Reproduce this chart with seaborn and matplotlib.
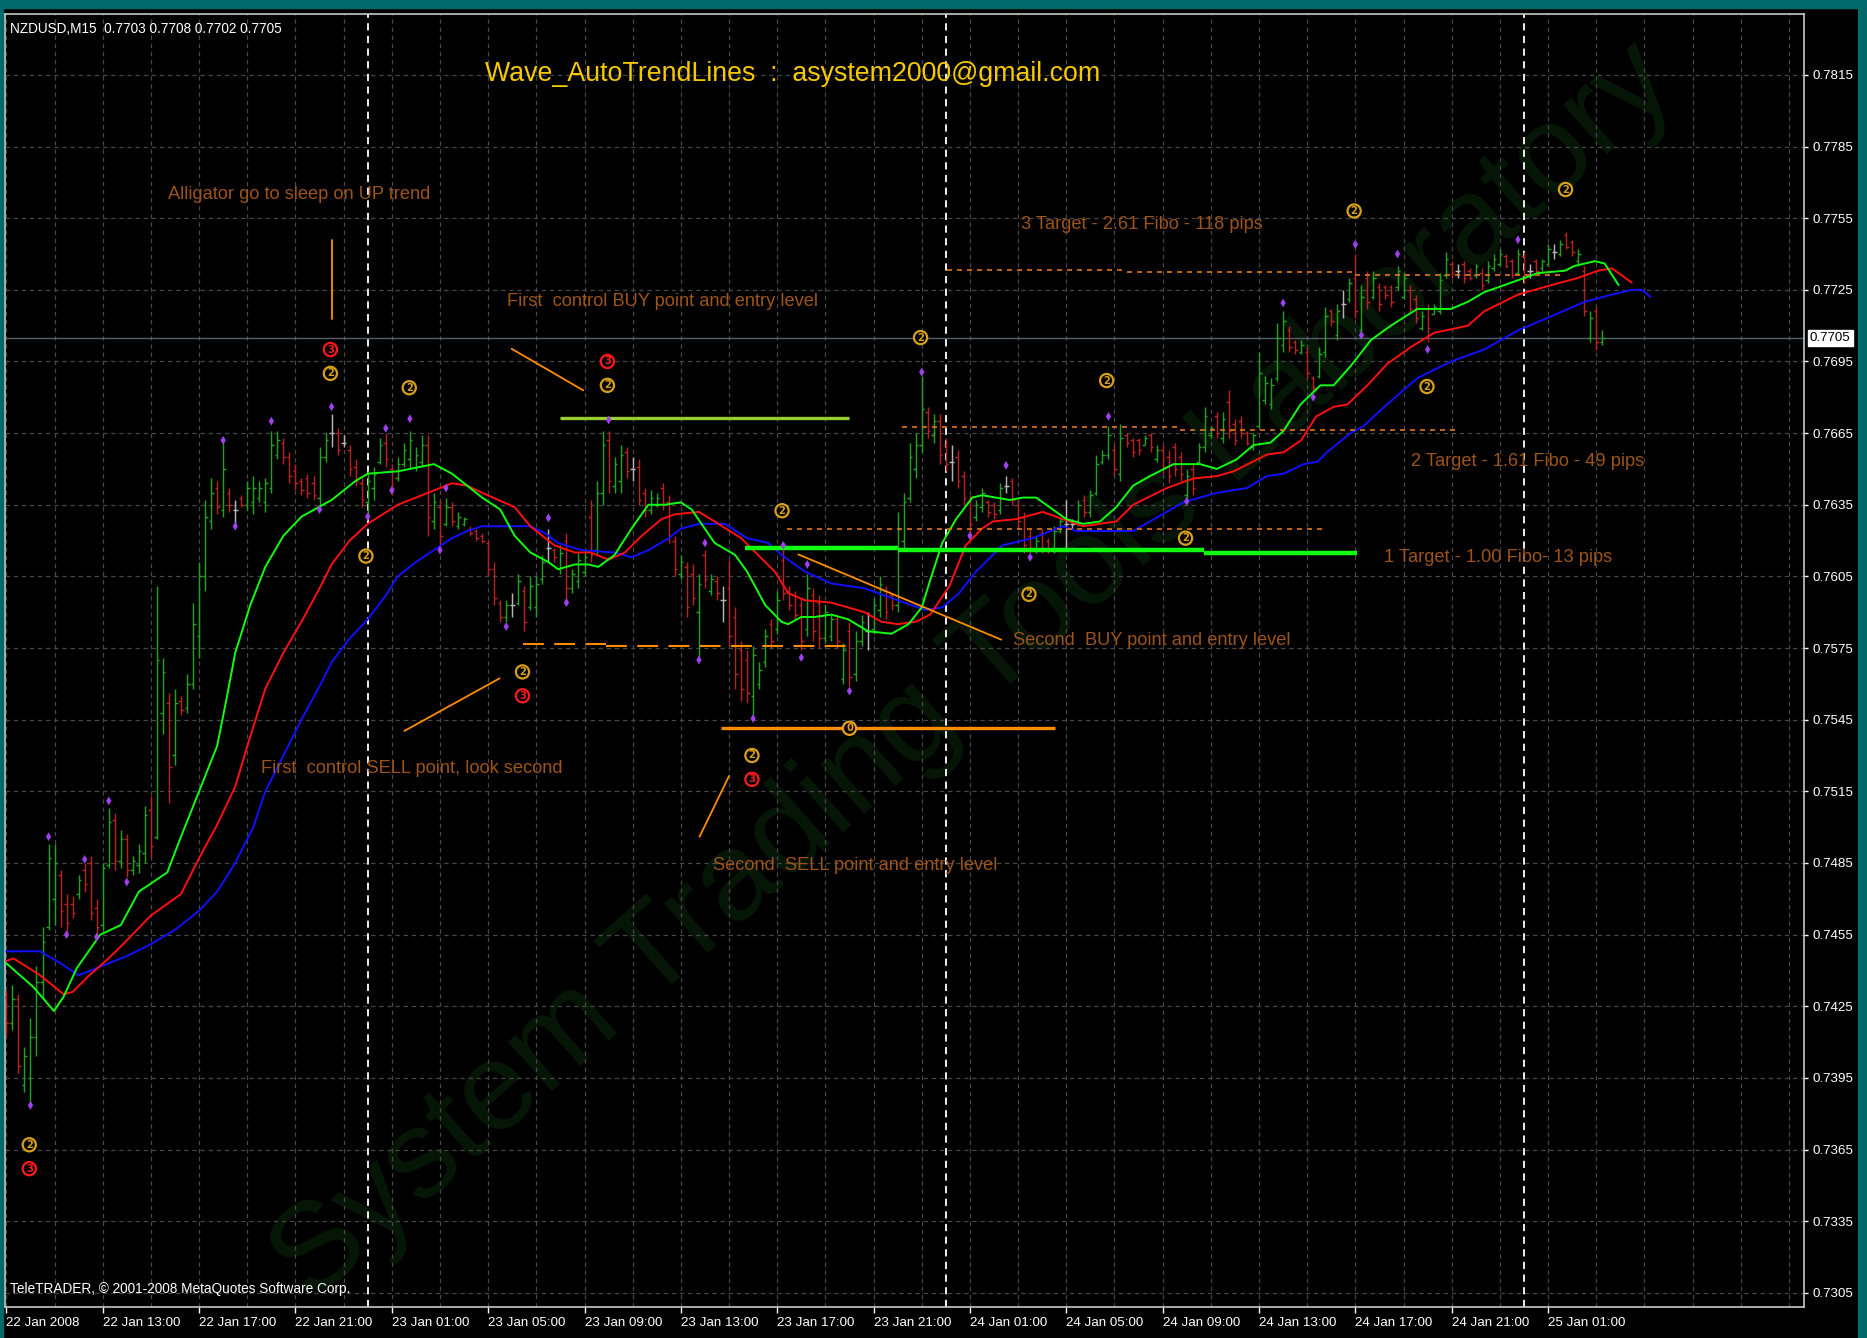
import numpy as np
import matplotlib
matplotlib.use("Agg")
import matplotlib.pyplot as plt
import matplotlib.transforms as mtransforms
from matplotlib.patches import Rectangle
from matplotlib import font_manager
import seaborn as sns

sns.set_theme(style="dark")
_names = {f.name for f in font_manager.fontManager.ttflist}
if "Liberation Sans Narrow" in _names:
    FAM, K = "Liberation Sans Narrow", 1.0
else:
    FAM, K = "Liberation Sans", 0.82
plt.rcParams['font.family'] = [FAM, 'DejaVu Sans']

# ---------------- data (prices in pips: 7432 -> 0.7432) ----------------
bar_open = [7429,7418,7428,7392,7395,7412,7435,7458,7470,7480,7468,7468,7472,7482,7485,7466,7459,7484,7503,7486,
            7495,7482,7484,7489,7507,7496,7548,7552,7530,7553,7550,7560,7580,7605,7628,7642,7633,7640,7633,7638,
            7635,7636,7638,7636,7642,7656,7661,7655,7649,7645,7646,7644,7638,7655,7665,7665,7661,7658,7651,7644,
            7636,7642,7653,7661,7650,7646,7652,7654,7651,7653,7660,7628,7634,7627,7634,7626,7627,7625,7624,7622,
            7619,7608,7594,7588,7593,7594,7599,7592,7592,7604,7617,7616,7608,7620,7600,7603,7607,7630,7616,7640,
            7662,7643,7645,7657,7650,7651,7640,7633,7635,7642,7636,7620,7606,7609,7606,7590,7614,7599,7603,7595,
            7600,7588,7574,7570,7555,7560,7569,7585,7583,7612,7599,7597,7593,7583,7597,7594,7579,7580,7587,7562,
            7582,7564,7578,7582,7583,7591,7599,7597,7593,7620,7638,7650,7660,7674,7664,7670,7660,7653,7655,7647,
            7636,7630,7634,7636,7635,7633,7643,7645,7635,7630,7622,7616,7623,7620,7617,7624,7627,7627,7628,7637,
            7632,7640,7653,7656,7658,7648,7664,7662,7662,7660,7664,7654,7658,7655,7659,7655,7639,7650,7653,7659,
            7664,7672,7663,7678,7669,7670,7665,7659,7668,7679,7677,7688,7702,7708,7703,7699,7699,7688,7689,7699,
            7716,7706,7719,7721,7730,7708,7730,7722,7726,7726,7726,7726,7722,7725,7721,7709,7717,7715,7716,7731,
            7736,7733,7736,7733,7731,7732,7729,7734,7736,7739,7737,7732,7739,7733,7737,7734,7736,7741,7740,7748,
            7745,7737,7733,7705,7716,7703]
bar_high = [7432,7434,7430,7408,7420,7442,7458,7493,7493,7482,7472,7471,7480,7485,7488,7470,7485,7508,7506,7499,
            7497,7488,7493,7509,7513,7601,7571,7556,7558,7555,7564,7594,7611,7637,7646,7645,7662,7642,7637,7639,
            7645,7647,7645,7646,7666,7666,7663,7657,7652,7646,7648,7647,7659,7665,7673,7667,7664,7660,7654,7646,
            7649,7651,7663,7665,7652,7655,7661,7666,7659,7664,7664,7640,7637,7638,7636,7632,7630,7626,7625,7623,
            7620,7611,7595,7595,7598,7606,7601,7605,7605,7614,7625,7617,7618,7623,7608,7615,7616,7637,7645,7666,
            7666,7655,7660,7659,7655,7654,7642,7641,7640,7644,7639,7622,7614,7611,7610,7606,7616,7606,7605,7601,
            7612,7592,7578,7574,7576,7569,7583,7587,7599,7616,7601,7599,7596,7606,7600,7597,7593,7589,7589,7577,
            7586,7582,7589,7590,7596,7605,7601,7598,7632,7640,7661,7665,7689,7676,7673,7673,7663,7660,7658,7649,
            7639,7637,7642,7637,7636,7644,7647,7646,7637,7632,7625,7622,7625,7621,7626,7630,7637,7629,7637,7639,
            7641,7656,7658,7668,7660,7669,7665,7663,7663,7664,7665,7660,7660,7658,7661,7657,7650,7652,7661,7676,
            7668,7674,7674,7683,7671,7672,7666,7665,7699,7689,7688,7711,7716,7710,7704,7704,7701,7689,7701,7718,
            7717,7719,7725,7730,7740,7727,7733,7733,7728,7727,7727,7735,7732,7727,7723,7716,7719,7719,7732,7741,
            7737,7736,7737,7734,7736,7734,7737,7740,7742,7740,7738,7742,7741,7736,7738,7738,7744,7744,7746,7749,
            7746,7742,7735,7716,7718,7708]
bar_low = [7413,7415,7397,7389,7384,7404,7428,7457,7459,7458,7456,7462,7470,7473,7461,7455,7457,7483,7482,7483,
           7479,7480,7481,7485,7487,7495,7539,7510,7526,7547,7548,7558,7571,7599,7625,7631,7630,7632,7626,7634,
           7633,7631,7636,7632,7640,7654,7652,7644,7641,7639,7638,7637,7634,7653,7659,7656,7659,7647,7643,7634,
           7630,7637,7652,7651,7639,7645,7651,7650,7649,7651,7622,7625,7616,7626,7626,7625,7626,7622,7620,7619,
           7605,7593,7586,7586,7588,7593,7582,7591,7588,7602,7611,7611,7606,7595,7598,7600,7605,7611,7614,7635,
           7640,7640,7640,7646,7645,7635,7630,7631,7634,7633,7619,7605,7604,7588,7593,7571,7600,7597,7595,7586,
           7576,7558,7553,7552,7547,7558,7567,7575,7581,7595,7591,7587,7574,7580,7578,7575,7577,7578,7575,7560,
           7559,7561,7576,7574,7581,7588,7587,7591,7590,7616,7636,7646,7657,7663,7661,7652,7649,7645,7642,7635,
           7623,7628,7632,7630,7629,7631,7640,7635,7625,7615,7615,7615,7615,7615,7615,7623,7617,7625,7626,7630,
           7630,7639,7652,7654,7647,7645,7659,7655,7656,7660,7657,7653,7648,7644,7647,7645,7637,7639,7652,7657,
           7663,7663,7661,7663,7660,7663,7660,7658,7667,7677,7675,7687,7699,7699,7698,7698,7688,7682,7688,7697,
           7710,7704,7713,7720,7713,7705,7717,7721,7716,7721,7718,7725,7721,7715,7711,7708,7703,7715,7715,7730,
           7730,7730,7728,7729,7730,7725,7728,7733,7735,7734,7730,7731,7728,7730,7732,7733,7735,7738,7739,7742,
           7739,7736,7714,7703,7700,7702]
bar_close = [7418,7428,7400,7404,7412,7435,7452,7487,7485,7465,7460,7464,7478,7476,7464,7458,7483,7502,7486,7495,
             7482,7486,7490,7505,7492,7570,7565,7525,7552,7549,7560,7585,7605,7630,7640,7634,7650,7635,7633,7635,
             7642,7642,7642,7644,7660,7662,7655,7647,7644,7641,7640,7639,7655,7662,7665,7658,7661,7650,7645,7637,
             7645,7648,7660,7654,7642,7652,7658,7662,7656,7660,7630,7636,7622,7634,7628,7630,7629,7623,7621,7620,
             7608,7596,7588,7593,7593,7603,7586,7601,7602,7611,7617,7613,7615,7600,7606,7612,7613,7614,7640,7660,
             7645,7652,7656,7649,7650,7637,7633,7638,7638,7635,7622,7608,7611,7592,7596,7602,7604,7604,7598,7595,
             7580,7564,7558,7556,7572,7566,7580,7578,7595,7598,7593,7589,7578,7600,7582,7579,7590,7587,7578,7574,
             7563,7578,7586,7582,7593,7602,7590,7593,7625,7636,7655,7660,7675,7666,7670,7656,7652,7653,7645,7638,
             7627,7635,7640,7632,7631,7642,7643,7637,7628,7618,7617,7620,7617,7616,7624,7628,7627,7627,7635,7632,
             7639,7652,7656,7664,7650,7663,7661,7657,7658,7663,7659,7658,7651,7647,7650,7648,7647,7642,7659,7672,
             7667,7665,7671,7666,7662,7665,7661,7664,7690,7686,7685,7705,7712,7701,7700,7702,7690,7684,7698,7714,
             7712,7716,7719,7728,7716,7722,7720,7730,7719,7723,7720,7733,7730,7717,7713,7714,7709,7718,7729,7738,
             7732,7733,7730,7730,7735,7727,7735,7738,7740,7735,7731,7740,7730,7733,7733,7737,7742,7741,7744,7743,
             7741,7740,7716,7713,7703,7705]

# Alligator lines (bar index, price in pips)
jaw_x = [0,5.6,9,12,16,20,24,28,32,35,38,41,43,46,49,52,54,57,60,63,65,68,71,74,76.5,79,83,87,89.5,91.6,95.5,
         101,103.8,106.6,110,112,115,117.6,119.3,123,126.5,128.7,132.6,137,142.5,148,152.5,155.4,158.2,161,
         165.4,170.4,175.4,177.7,187.1,189.9,195.4,201,206,209.3,212.1,215.4,217.7,219.3,223.2,225.4,228.8,
         234.3,239.9,245.4,251,256.6,262.1,266.6,269.9,271.6,273]
jaw_y = [7448,7448,7443,7438,7442,7446,7451,7457,7465,7473,7485,7500,7515,7530,7545,7559,7569,7579,7587,7597,
         7605,7611,7616,7621,7624,7626,7626,7626,7623,7619,7616,7615,7613,7616,7621,7625,7627,7627,7627,7621,
         7619,7614,7607,7602,7600,7595,7591,7592,7598,7607,7618,7621,7626,7624,7624,7628,7636,7640,7642,7647,
         7648,7652,7653,7657,7665,7668,7676,7688,7695,7700,7708,7714,7720,7723,7725,7725,7722]
teeth_x = [0,1.2,5.6,9.5,11,13.8,16.5,19,24,29,32,35,38,40.5,43,46,49,52,54,57,60,65,71,74,76.5,79,84.4,87,91,
           94.4,97,100,102.7,105.5,108.8,111,115,117.6,122,124,127.6,129.8,132.6,137,142.5,145.3,148,151,153.4,
           156.6,159.3,162,163.8,167.7,172.1,175.4,178.8,184.3,187.1,192.7,197.1,201,203.8,209.3,212.1,215,
           217.5,220.4,222.7,226,229.3,233.2,237.1,242.7,245.4,251,256.6,261,264.3,266.6,269.9]
teeth_y = [7444,7445,7438,7430,7431,7438,7444,7450,7463,7472,7487,7501,7517,7538,7558,7573,7586,7600,7610,7620,
           7627,7635,7641,7644,7643,7640,7634,7626,7618,7615,7615,7612,7615,7622,7629,7631,7632,7628,7621,7616,
           7607,7598,7595,7594,7590,7586,7585,7586,7589,7601,7618,7625,7628,7629,7632,7629,7626,7628,7635,7642,
           7646,7647,7649,7656,7657,7662,7672,7676,7677,7685,7694,7701,7707,7710,7716,7723,7727,7730,7733,7734,
           7728]
lips_x = [0,4.5,7.9,9.5,11.7,15.6,19,22,26.7,29,32,35,36.5,38,40.5,43,46,49,54,58,60,65,71,74,79,82,84.4,87,90,
          91.6,94.4,96.6,98.3,101,103.8,106.6,109.3,112,113.8,117.6,121,123,126,128.7,129.8,132,134.2,137,139.8,
          143.1,147,149.8,152,153.6,155.4,157.7,160.4,162,166.6,168.8,171,173.2,176,178.8,181.6,184.3,187.1,
          189.9,193.8,198.2,201,204.3,207.1,209.9,212.1,214.9,218.2,220.4,223.2,226.6,229.9,234.3,239.9,242.7,
          245.4,251,254.3,258.8,260.4,263.8,265.4,267.7]
lips_y = [7443,7433,7423,7429,7441,7455,7459,7473,7481,7496,7515,7534,7553,7573,7593,7609,7622,7630,7637,7645,
          7648,7649,7652,7648,7638,7633,7622,7615,7611,7608,7610,7610,7609,7614,7625,7635,7635,7636,7633,7619,
          7614,7607,7593,7586,7585,7588,7588,7589,7587,7582,7581,7585,7592,7605,7619,7629,7638,7639,7637,7638,
          7638,7634,7629,7627,7628,7634,7643,7647,7652,7652,7650,7654,7660,7661,7666,7677,7685,7685,7693,7704,
          7710,7717,7717,7720,7724,7729,7732,7733,7735,7737,7736,7727]

# fractal markers
diam_i = [4,7,10,13,15,17,20,36,38,44,52,54,60,63,64,67,72,73,83,90,93,100,115,116,124,129,132,133,140,152,160,
          166,170,183,196,212,217,224,225,231,236,251]
diam_p = [7383.5,7496,7455,7486.5,7454,7511,7477,7662,7626,7670,7633,7676,7630,7667,7641,7671,7616,7642,7584,
          7629.5,7594,7670.5,7570,7619,7545.5,7618,7571,7610,7557,7690.5,7622,7651.5,7613,7672,7636.4,7719.5,
          7680,7744,7706,7740,7700,7746]
wave2_i = [3.8,53.8,66.9,59.7,85.7,99.8,123.8,128.8,151.8,169.8,182.7,195.8,223.8,235.9,258.9]
wave2_p = [7367,7690,7684,7613.5,7565,7685,7530,7632.5,7705,7597.5,7687,7621,7758,7684.5,7767]
wave3_i = [3.8,53.8,99.8,85.7,123.8]
wave3_p = [7357,7700,7695,7555,7520]

date_labels = ["22 Jan 2008", "22 Jan 13:00", "22 Jan 17:00", "22 Jan 21:00", "23 Jan 01:00", "23 Jan 05:00",
               "23 Jan 09:00", "23 Jan 13:00", "23 Jan 17:00", "23 Jan 21:00", "24 Jan 01:00", "24 Jan 05:00",
               "24 Jan 09:00", "24 Jan 13:00", "24 Jan 17:00", "24 Jan 21:00", "25 Jan 01:00"]
price_ticks = [7305, 7335, 7365, 7395, 7425, 7455, 7485, 7515, 7545, 7575, 7605, 7635, 7665, 7695, 7725, 7755,
               7785, 7815]
day_breaks = [60, 156, 252]

# horizontal levels: (start bar, end bar, price)
green_level = [(122.6, 148, 7616.9), (148, 198.8, 7616.2), (198.8, 224.2, 7614.8)]
buy_level = [(92, 140, 7671.4)]
sell_level = [(118.7, 174.2, 7541.4)]
sell_dash = [(85.8, 99.6, 7576.8), (99.6, 140.9, 7575.8)]
target_levels = [(156.2, 186, 7733.5), (186, 224, 7732.3), (224, 258.5, 7731.0),
                 (148.8, 194.9, 7667.7), (194.9, 240.7, 7666.5), (129.7, 219, 7625.0)]
# pointer segments: (i0, p0, i1, p1)
pointers = [(54.0, 7745.7, 54.0, 7712.8), (83.9, 7700.3, 95.8, 7682.9), (66.1, 7540.3, 81.9, 7562.3),
            (115.1, 7496.0, 120.0, 7521.4), (131.5, 7614.2, 165.2, 7578.5)]
notes = [("Alligator go to sleep on UP trend", 26.8, 7765),
         ("First  control BUY point and entry level", 83.1, 7720),
         ("3 Target - 2.61 Fibo - 118 pips", 168.5, 7752.5),
         ("2 Target - 1.61 Fibo - 49 pips", 233.3, 7653),
         ("1 Target - 1.00 Fibo- 13 pips", 228.8, 7613),
         ("Second  BUY point and entry level", 167.1, 7578),
         ("First  control SELL point, look second", 42.3, 7524.5),
         ("Second  SELL point and entry level", 117.3, 7484)]
last_price = 7705

# ---------------- figure ----------------
W, H = 1867, 1338
P = 1e4
fig = plt.figure(figsize=(W / 100, H / 100), dpi=100, facecolor="black")
ax = fig.add_axes([5 / W, 1 - 1307.4 / H, (1804 - 5) / W, (1307.4 - 13.5) / H])
ax.set_facecolor("black")
ax.set_xlim(-0.23, 298.5)
ax.set_ylim(0.72989, 0.78407)
ax.grid(False)

teal = "#00696b"
fig.add_artist(Rectangle((0, 1 - 8.4 / H), 1, 8.4 / H, transform=fig.transFigure, color=teal, zorder=0))
fig.add_artist(Rectangle((1858 / W, 0), 9 / W, 1, transform=fig.transFigure, color=teal, zorder=0))
fig.add_artist(Rectangle((0, 0), 2.6 / W, 1, transform=fig.transFigure, color=teal, zorder=0))

# watermark
ax.text(0.522, 0.497, "System Trading Tools Laboratory", transform=fig.transFigure, rotation=41.6,
        rotation_mode="anchor", ha="center", va="center", fontsize=110 * K, color="#071707", zorder=0.5,
        clip_on=True)

# grid
gcol = "#474747"
for t in price_ticks:
    ax.axhline(t / P, color=gcol, lw=0.9, ls=(0, (3.5, 3)), zorder=1)
for g in range(0, 300, 8):
    ax.axvline(g, color=gcol, lw=0.9, ls=(0, (3.5, 3)), zorder=1)

# current price line
ax.axhline(last_price / P, color="#56606a", lw=1.0, zorder=1.5)

# day separators
for d in day_breaks:
    ax.axvline(d, color="white", lw=1.3, ls=(0, (4, 3)), zorder=2)

# OHLC bars
o = np.array(bar_open) / P
h = np.array(bar_high) / P
l = np.array(bar_low) / P
c = np.array(bar_close) / P
idx = np.arange(len(o))
cols = np.where(c > o, "#22a022", np.where(c < o, "#b52222", "#b4b4b4"))
ax.vlines(idx, l, h, colors=cols, lw=1.05, zorder=4)
ax.hlines(o, idx - 0.42, idx, colors=cols, lw=1.05, zorder=4)
ax.hlines(c, idx, idx + 0.42, colors=cols, lw=1.05, zorder=4)

# alligator
sns.lineplot(x=np.array(jaw_x), y=np.array(jaw_y) / P, ax=ax, color="#1010ff", lw=1.4, sort=False, zorder=5)
sns.lineplot(x=np.array(teeth_x), y=np.array(teeth_y) / P, ax=ax, color="#ff1010", lw=1.4, sort=False, zorder=5)
sns.lineplot(x=np.array(lips_x), y=np.array(lips_y) / P, ax=ax, color="#10ff10", lw=1.4, sort=False, zorder=5)

# levels
orange = "#ff8c00"
for a, b, p in green_level:
    ax.hlines(p / P, a, b, color="#10ff10", lw=3.2, zorder=6)
for a, b, p in buy_level:
    ax.hlines(p / P, a, b, color="#9acd32", lw=2.4, zorder=6)
for a, b, p in sell_level:
    ax.hlines(p / P, a, b, color=orange, lw=2.4, zorder=6)
for a, b, p in sell_dash:
    ax.hlines(p / P, a, b, color=orange, lw=1.5, ls=(0, (10, 5)), zorder=6)
for a, b, p in target_levels:
    ax.hlines(p / P, a, b, color="#e0781e", lw=1.2, ls=(0, (3, 3)), zorder=6)
for i0, p0, i1, p1 in pointers:
    ax.plot([i0, i1], [p0 / P, p1 / P], color=orange, lw=1.3, zorder=6)

# fractal diamonds
sns.scatterplot(x=diam_i, y=np.array(diam_p) / P, ax=ax, marker="d", s=20, color="#a040f0",
                edgecolor="none", zorder=7, legend=False)

# wave badges
def badge(i, p, s, col):
    ax.text(i, p / P, s, color=col, fontsize=7.2, fontweight="bold", ha="center", va="center",
            family="DejaVu Sans", zorder=8,
            bbox=dict(boxstyle="circle,pad=0.16", fc="black", ec=col, lw=1.6))

for i, p in zip(wave2_i, wave2_p):
    badge(i, p, "2", "#d8a018")
for i, p in zip(wave3_i, wave3_p):
    badge(i, p, "3", "#ff1a1a")
badge(140, 7541.4, "0", "#e8a020")

# annotations
for s, i, p in notes:
    ax.text(i, p / P, s, color="#9c5418", fontsize=16 * K, ha="left", va="center", zorder=8)

# axes styling
for sp in ax.spines.values():
    sp.set_color("#c8c8c8")
    sp.set_linewidth(1.2)
ax.yaxis.tick_right()
ax.set_yticks([t / P for t in price_ticks])
ax.set_yticklabels([f"{t / P:.4f}" for t in price_ticks])
ax.set_xticks(list(range(0, 257, 16)))
ax.set_xticklabels(date_labels)
for lab in ax.get_xticklabels():
    lab.set_ha("left")
ax.tick_params(axis="y", colors="white", labelcolor="white", length=3, width=1, pad=3, labelsize=11.8 * K,
               right=True, left=False)
ax.tick_params(axis="x", colors="white", labelcolor="white", length=4, width=1, pad=3, labelsize=11.8 * K,
               bottom=True)
ax.set_xlabel("")
ax.set_ylabel("")

# current price box
trans = mtransforms.blended_transform_factory(ax.transAxes, ax.transData)
ax.text(1.0 + 6 / 1799, last_price / P, f"{last_price / P:.4f}", transform=trans, ha="left", va="center",
        fontsize=11.8 * K, color="black", clip_on=False, zorder=10,
        bbox=dict(boxstyle="square,pad=0.15", fc="white", ec="white"))

# header / footer texts
fig.text(793 / W, 1 - 74 / H, "Wave_AutoTrendLines  :  asystem2000@gmail.com", color="#f5c800",
         fontsize=23.5 * K, ha="center", va="center")
fig.text(9.5 / W, 1 - 28.6 / H, "NZDUSD,M15  0.7703 0.7708 0.7702 0.7705", color="white", fontsize=12 * K,
         ha="left", va="center")
fig.text(9.5 / W, 1 - 1289.5 / H, "TeleTRADER, \u00a9 2001-2008 MetaQuotes Software Corp.", color="white",
         fontsize=12 * K, ha="left", va="center")

fig.savefig("out.png", dpi=100, facecolor="black")
